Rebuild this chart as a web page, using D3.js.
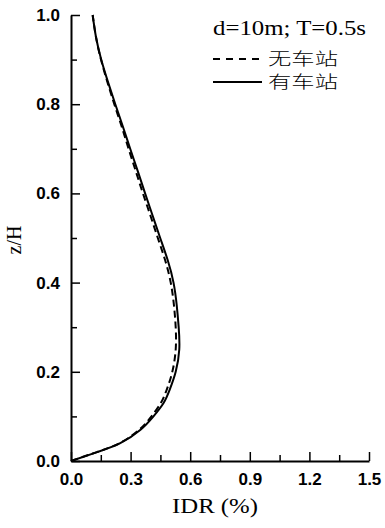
<!DOCTYPE html>
<html>
<head>
<meta charset="utf-8">
<script src="https://cdn.jsdelivr.net/npm/d3@7"></script>
<style>
  body { margin: 0; background: #fff; }
  svg { display: block; }
</style>
</head>
<body>
<div id="chart"></div>
<script>
// height levels (z/H) and IDR values (%)
var zLevels     = [0, 0.02, 0.04, 0.07, 0.10, 0.13, 0.16, 0.20, 0.25, 0.30, 0.35, 0.40, 0.45, 0.50, 0.55, 0.60, 0.65, 0.70, 0.75, 0.80, 0.85, 0.90, 0.95, 1.00];
var noStation   = [0, 0.130, 0.245, 0.343, 0.405, 0.452, 0.482, 0.510, 0.527, 0.527, 0.518, 0.502, 0.474, 0.437, 0.400, 0.362, 0.326, 0.290, 0.255, 0.218, 0.183, 0.151, 0.126, 0.109];
var withStation = [0, 0.132, 0.248, 0.350, 0.415, 0.466, 0.497, 0.527, 0.545, 0.542, 0.532, 0.516, 0.487, 0.449, 0.411, 0.373, 0.336, 0.298, 0.261, 0.223, 0.186, 0.152, 0.126, 0.109];
var xTicks = [0, 0.3, 0.6, 0.9, 1.2, 1.5];
var yTicks = [0, 0.2, 0.4, 0.6, 0.8, 1.0];
var legendTitle = "d=10m; T=0.5s";
var seriesNames = ["无车站", "有车站"];

var W = 385, H = 528;
var margin = { top: 15, right: 16, bottom: 67, left: 71 },
    width = W - margin.left - margin.right,
    height = H - margin.top - margin.bottom;

var svg = d3.select("#chart").append("svg")
    .attr("width", W)
    .attr("height", H);

var g = svg.append("g")
    .attr("transform", "translate(" + margin.left + "," + margin.top + ")");

var x = d3.scaleLinear().domain([0, 1.5]).range([0, width]);
var y = d3.scaleLinear().domain([0, 1]).range([height, 0]);

var tickFont = "'Liberation Sans', Arial, sans-serif";
var serifFont = "'Liberation Serif', 'Times New Roman', serif";

// minor ticks
g.append("g")
    .attr("transform", "translate(0," + height + ")")
    .call(d3.axisBottom(x).tickValues(d3.range(0.15, 1.5, 0.3)).tickSize(-6).tickFormat(""))
    .call(function(s) { s.select(".domain").remove(); })
    .selectAll("line").attr("stroke-width", 1.5);
g.append("g")
    .call(d3.axisLeft(y).tickValues(d3.range(0.1, 1, 0.2)).tickSize(-6).tickFormat(""))
    .call(function(s) { s.select(".domain").remove(); })
    .selectAll("line").attr("stroke-width", 1.5);

// major axes
var xAxis = g.append("g")
    .attr("transform", "translate(0," + height + ")")
    .call(d3.axisBottom(x).tickValues(xTicks).tickSizeInner(-9).tickSizeOuter(0).tickPadding(9).tickFormat(d3.format(".1f")));
var yAxis = g.append("g")
    .call(d3.axisLeft(y).tickValues(yTicks).tickSizeInner(-9).tickSizeOuter(0).tickPadding(11).tickFormat(d3.format(".1f")));

[xAxis, yAxis].forEach(function(a) {
    a.select(".domain").attr("stroke-width", 2);
    a.selectAll("line").attr("stroke-width", 1.5);
    a.selectAll("text")
        .style("font-family", tickFont)
        .style("font-weight", "bold")
        .style("font-size", "17px")
        .attr("fill", "#000");
});
xAxis.selectAll("text").attr("dy", "0.9em");

// curves
var line = function(vals) {
    return d3.line()
        .x(function(d, i) { return x(vals[i]); })
        .y(function(d) { return y(d); })
        .curve(d3.curveNatural)(zLevels);
};

g.append("path")
    .attr("d", line(noStation))
    .attr("fill", "none")
    .attr("stroke", "#000")
    .attr("stroke-width", 2)
    .attr("stroke-dasharray", "7,4");

g.append("path")
    .attr("d", line(withStation))
    .attr("fill", "none")
    .attr("stroke", "#000")
    .attr("stroke-width", 2);

// axis titles
svg.append("text")
    .attr("transform", "translate(21,240) rotate(-90)")
    .attr("text-anchor", "middle")
    .style("font-family", serifFont)
    .style("font-size", "20px")
    .text("z/H");

svg.append("text")
    .attr("x", 172)
    .attr("y", 513)
    .attr("textLength", 86)
    .attr("lengthAdjust", "spacingAndGlyphs")
    .style("font-family", serifFont)
    .style("font-size", "21px")
    .text("IDR (%)");

// legend
svg.append("text")
    .attr("x", 213)
    .attr("y", 35)
    .attr("textLength", 153)
    .attr("lengthAdjust", "spacingAndGlyphs")
    .style("font-family", serifFont)
    .style("font-size", "20px")
    .text(legendTitle);

var legend = svg.append("g");
seriesNames.forEach(function(name, i) {
    var ly = 59 + i * 23;
    legend.append("line")
        .attr("x1", 213).attr("x2", 262)
        .attr("y1", ly).attr("y2", ly)
        .attr("stroke", "#000")
        .attr("stroke-width", 2)
        .attr("stroke-dasharray", i === 0 ? "7,6" : null);
    legend.append("text")
        .attr("x", 268)
        .attr("y", ly + 6)
        .attr("textLength", 70)
        .attr("lengthAdjust", "spacingAndGlyphs")
        .style("font-family", "'Noto Sans CJK SC', sans-serif")
        .style("font-size", "17px")
        .style("font-weight", "300")
        .text(name);
});
</script>
</body>
</html>
